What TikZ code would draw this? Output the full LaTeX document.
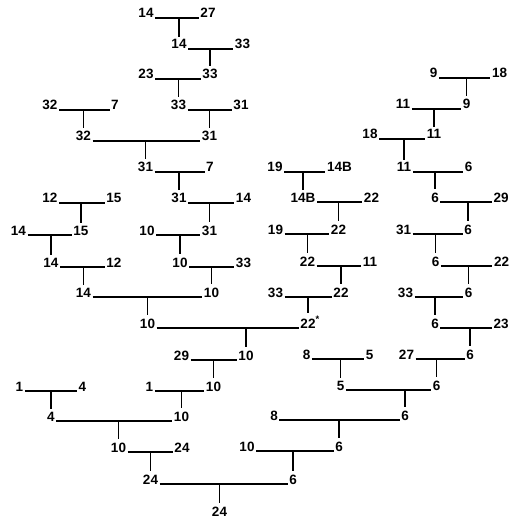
\documentclass[tikz,border=0pt]{standalone}
\usepackage{fontspec}
\setmainfont{Liberation Sans}
\begin{document}
\begin{tikzpicture}[x=1pt,y=-1pt,
  lab/.style={anchor=base,inner xsep=1.5pt,inner ysep=3pt,
    font=\fontsize{13.5}{13.5}\selectfont\bfseries},
  ln/.style={line width=1.8pt}]
\useasboundingbox (0,0) rectangle (518,521);
% labels: name / text / x / baseline
\foreach \n/\t/\x/\y in {
  r1a/14/146/18, r1b/27/208/18,
  r2a/14/179/49, r2b/33/242.5/49,
  r3a/23/146/79, r3b/33/210/79, r3c/9/433.5/78, r3d/18/499.5/78,
  r4a/32/50/110, r4b/7/115/110, r4c/33/178.5/110, r4d/31/241/110,
  r4e/11/403/109, r4f/9/466.5/109,
  r5a/32/83.5/141, r5b/31/209.5/141, r5c/18/370/139, r5d/11/434/139,
  r6a/31/145.5/172, r6b/7/210/172, r6c/19/275/172, r6d/14B/339.5/172,
  r6e/11/404/172, r6f/6/468.5/172,
  r7a/12/50/203, r7b/15/114/203, r7c/31/179/203, r7d/14/243.5/203,
  r7e/14B/303/202, r7f/22/371.5/202, r7g/6/435/202, r7h/29/501/202,
  r8a/14/18.5/235, r8b/15/81/235, r8c/10/147/235, r8d/31/209.5/235,
  r8e/19/275.5/234, r8f/22/338.5/234, r8g/31/403.5/234, r8h/6/468/234,
  r9a/14/51/267, r9b/12/114/267, r9c/10/180/267, r9d/33/243.5/267,
  r9e/22/307.5/266, r9f/11/370/266, r9g/6/435.5/266, r9h/22/501.5/266,
  r10a/14/83.5/297, r10b/10/211.5/297, r10c/33/275.5/297,
  r10d/22/341/297, r10e/33/405.5/297, r10f/6/468.5/297,
  r11a/10/147.5/328, r11c/6/435/328, r11d/23/501/328,
  r12a/29/181.5/360, r12b/10/246/360, r12c/8/306.5/359, r12d/5/369.5/359,
  r12e/27/406.5/359, r12f/6/470/359,
  r13a/1/19.5/391, r13b/4/82.5/391, r13c/1/149.5/391, r13d/10/213.5/391,
  r13e/5/340.5/390, r13f/6/436.5/390,
  r14a/4/51/421, r14b/10/181.5/421, r14c/8/274/420, r14d/6/405/420,
  r15a/10/118.5/452, r15b/24/182/452, r15c/10/247/451, r15d/6/339/451,
  r16a/24/150.5/484, r16b/6/293/484,
  r17a/24/219.5/516}
  \node[lab] (\n) at (\x,\y) {\t};
\node[lab] (r11b) at (308,328) {22\rlap{\textsuperscript{*}}};
% crosses: parent / parent / offspring
\foreach \p/\q/\c in {
  r1a/r1b/r2a, r2a/r2b/r3b, r3a/r3b/r4c, r4a/r4b/r5a, r4c/r4d/r5b,
  r5a/r5b/r6a, r6a/r6b/r7c, r7c/r7d/r8d, r8c/r8d/r9c, r9c/r9d/r10b,
  r7a/r7b/r8b, r8a/r8b/r9a, r9a/r9b/r10a, r10a/r10b/r11a,
  r6c/r6d/r7e, r7e/r7f/r8f, r8e/r8f/r9e, r9e/r9f/r10d, r10c/r10d/r11b,
  r11a/r11b/r12b, r12a/r12b/r13d, r13c/r13d/r14b, r13a/r13b/r14a,
  r14a/r14b/r15a, r15a/r15b/r16a, r16a/r16b/r17a,
  r3c/r3d/r4f, r4e/r4f/r5d, r5c/r5d/r6e, r6e/r6f/r7g, r7g/r7h/r8h,
  r8g/r8h/r9g, r9g/r9h/r10f, r10e/r10f/r11c, r11c/r11d/r12f,
  r12e/r12f/r13f, r12c/r12d/r13e, r13e/r13f/r14d, r14c/r14d/r15d,
  r15c/r15d/r16b}
{
  \draw[ln] (\p.base east) -- (\q.base west);
  \draw[ln] (\c |- \p.base) -- (\c.north);
}
\end{tikzpicture}
\end{document}
